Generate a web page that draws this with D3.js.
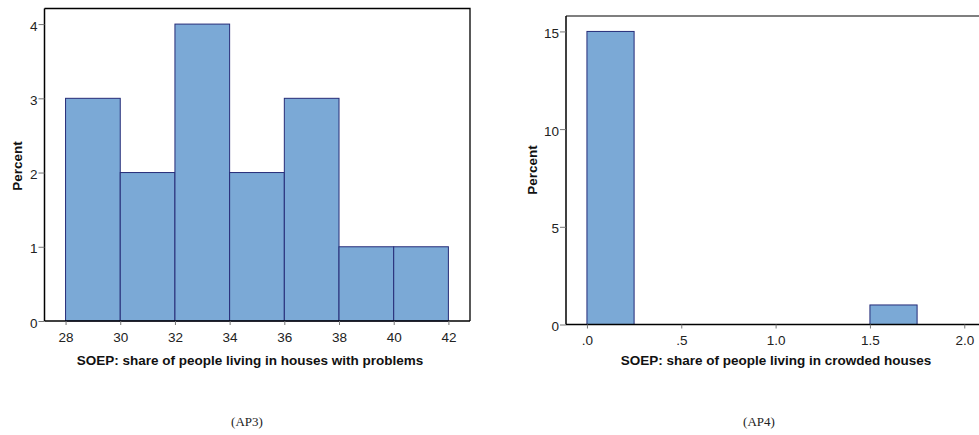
<!DOCTYPE html>
<html>
<head>
<meta charset="utf-8">
<script src="https://cdn.jsdelivr.net/npm/d3@7/dist/d3.min.js"></script>
<style>
  html, body { margin: 0; padding: 0; background: #fff; }
  svg { display: block; }
  .tick text { font-family: "Liberation Sans", Arial, sans-serif; font-size: 13.5px; fill: #222; }
  .title { font-family: "Liberation Sans", Arial, sans-serif; font-size: 13.5px; font-weight: bold; fill: #111; }
  .caption { font-family: "Liberation Serif", "Times New Roman", serif; font-size: 13px; fill: #222; }
</style>
</head>
<body>
<svg id="chart" width="979" height="435"></svg>
<script>
// Panel AP3: share of people living in houses with problems (bin edges, percent per bin)
const problemsBinEdges = [28, 30, 32, 34, 36, 38, 40, 42];
const problemsPercent = [3, 2, 4, 2, 3, 1, 1];
const problemsXTicks = [28, 30, 32, 34, 36, 38, 40, 42];
const problemsYTicks = [0, 1, 2, 3, 4];

// Panel AP4: share of people living in crowded houses
const crowdedBins = [[0, 0.25], [1.5, 1.75]];
const crowdedPercent = [15, 1];
const crowdedXTicks = [0, 0.5, 1.0, 1.5, 2.0];
const crowdedXTickLabels = [".0", ".5", "1.0", "1.5", "2.0"];
const crowdedYTicks = [0, 5, 10, 15];

const svg = d3.select("#chart");
const barFill = "#7ba9d6";
const barStroke = "#262c78";

function drawPanel(cfg) {
  const g = svg.append("g");
  const x = d3.scaleLinear().domain(cfg.xDomain).range([cfg.left, cfg.right]);
  const y = d3.scaleLinear().domain(cfg.yDomain).range([cfg.bottom, cfg.top]);

  // frame: top and right edges
  g.append("path")
    .attr("d", `M${cfg.left},${cfg.top}H${cfg.right}V${cfg.bottom}`)
    .attr("fill", "none")
    .attr("stroke", cfg.frameColor)
    .attr("stroke-width", 1.3);

  // bars
  g.selectAll("rect.bar")
    .data(cfg.bins)
    .join("rect")
    .attr("class", "bar")
    .attr("x", d => x(d.x0))
    .attr("width", d => x(d.x1) - x(d.x0))
    .attr("y", d => y(d.v))
    .attr("height", d => y(0) - y(d.v))
    .attr("fill", barFill)
    .attr("stroke", barStroke)
    .attr("stroke-width", 1);

  // axes
  const xAxis = d3.axisBottom(x)
    .tickValues(cfg.xTicks)
    .tickFormat((d, i) => cfg.xTickLabels ? cfg.xTickLabels[i] : d3.format("d")(d))
    .tickSize(4).tickPadding(7).tickSizeOuter(0);
  const gx = g.append("g").attr("transform", `translate(0,${cfg.bottom})`).call(xAxis);
  gx.select(".domain").attr("stroke", "#000").attr("stroke-width", 1.5)
    .attr("d", `M${cfg.left},0H${cfg.right}`);
  gx.selectAll(".tick line").attr("stroke", "#777");

  const yAxis = d3.axisLeft(y)
    .tickValues(cfg.yTicks)
    .tickFormat(d3.format("d"))
    .tickSize(6).tickPadding(1).tickSizeOuter(0);
  const gy = g.append("g").attr("transform", `translate(${cfg.left},0)`).call(yAxis);
  gy.select(".domain").attr("stroke", "#000").attr("stroke-width", 1.5)
    .attr("d", `M0,${cfg.top}V${cfg.bottom}`);
  gy.selectAll(".tick line").attr("stroke", "#777");
  gy.selectAll(".tick text").attr("dy", "0.45em");

  // axis titles
  g.append("text").attr("class", "title")
    .attr("x", cfg.xTitleX).attr("y", cfg.xTitleY)
    .attr("text-anchor", "middle").text(cfg.xTitle);
  g.append("text").attr("class", "title")
    .attr("transform", `translate(${cfg.yTitleX},${cfg.yTitleY}) rotate(-90)`)
    .attr("text-anchor", "middle").text("Percent");

  // caption
  g.append("text").attr("class", "caption")
    .attr("x", cfg.captionX).attr("y", 425.5)
    .attr("text-anchor", "middle").text(cfg.caption);
}

drawPanel({
  left: 44.5, right: 470, top: 8.5, bottom: 321,
  xDomain: [27.23, 42.79], yDomain: [0, 4.21],
  bins: problemsPercent.map((v, i) => ({ x0: problemsBinEdges[i], x1: problemsBinEdges[i + 1], v })),
  xTicks: problemsXTicks, yTicks: problemsYTicks,
  frameColor: "#000",
  xTitle: "SOEP: share of people living in houses with problems",
  xTitleX: 250, xTitleY: 364.5,
  yTitleX: 21.5, yTitleY: 166,
  caption: "(AP3)", captionX: 247
});

drawPanel({
  left: 566, right: 992, top: 16, bottom: 324.5,
  xDomain: [-0.111, 2.147], yDomain: [0, 15.79],
  bins: crowdedBins.map((b, i) => ({ x0: b[0], x1: b[1], v: crowdedPercent[i] })),
  xTicks: crowdedXTicks, xTickLabels: crowdedXTickLabels, yTicks: crowdedYTicks,
  frameColor: "#555",
  xTitle: "SOEP: share of people living in crowded houses",
  xTitleX: 776, xTitleY: 364.5,
  yTitleX: 537, yTitleY: 170,
  caption: "(AP4)", captionX: 759
});
</script>
</body>
</html>
